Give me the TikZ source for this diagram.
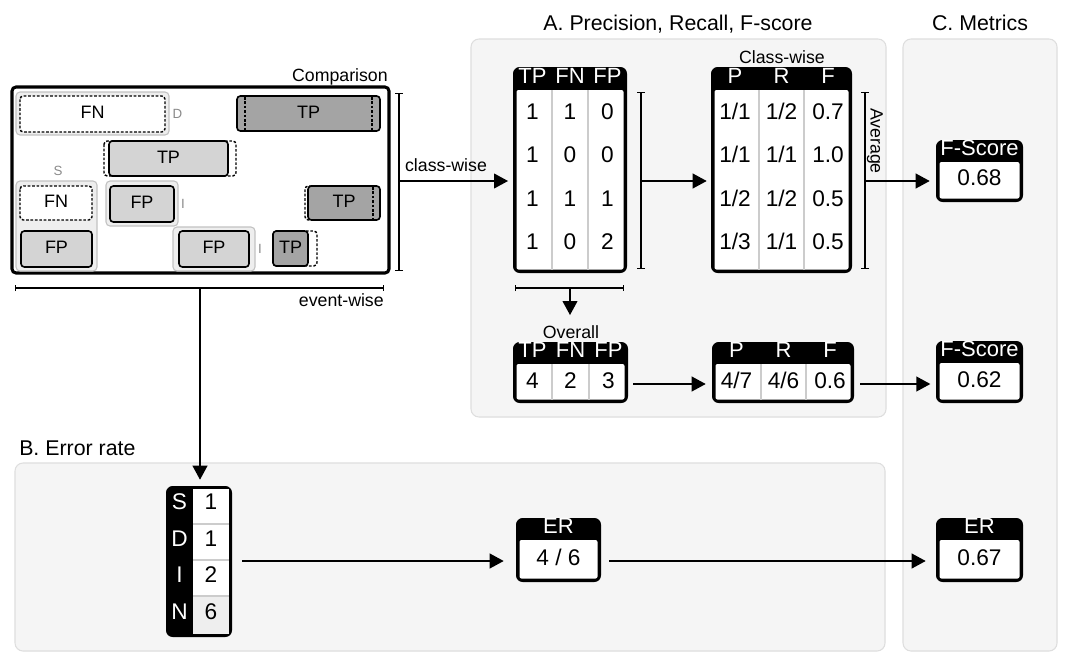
\documentclass[tikz,border=0pt]{standalone}
\usepackage{fontspec}
\setmainfont{Liberation Sans}
\usetikzlibrary{arrows.meta,fit}
\definecolor{panelbg}{HTML}{F5F5F5}
\definecolor{panelln}{HTML}{DEDEDE}
\definecolor{grpbg}{HTML}{EEEEEE}
\definecolor{grpln}{HTML}{C2C2C2}
\definecolor{lightbox}{HTML}{D4D4D4}
\definecolor{darkbox}{HTML}{A4A4A4}
\definecolor{sepln}{HTML}{CCCCCC}
\definecolor{lblgray}{HTML}{8A8A8A}
\newcommand{\fsz}[1]{\fontsize{#1}{#1}\selectfont}
\newcommand{\tblbox}[5]{%
  \fill[black, rounded corners=5pt] (#1,#2) rectangle (#3,#4);
  \fill[white, rounded corners=1.5pt] ({#1+3.5},#5) rectangle ({#3-3.5},{#4-3.5});
}
\begin{document}
\begin{tikzpicture}[x=0.75pt,y=-0.75pt,
  panel/.style={fill=panelbg, draw=panelln, line width=0.8pt, rounded corners=6pt},
  grp/.style={fill=grpbg, draw=grpln, line width=0.8pt, rounded corners=3pt},
  solidbox/.style={draw=black, line width=1.2pt, rounded corners=2.5pt},
  dashbox/.style={draw=black, line width=1.1pt, dash pattern=on 2pt off 1.3pt, rounded corners=2.5pt},
  dashln/.style={draw=black, line width=1pt, dash pattern=on 2pt off 1.3pt},
  lbl/.style={inner sep=0pt, text height=0.716em, text depth=0pt, font=\fsz{13.5}},
  glbl/.style={inner sep=0pt, text height=0.716em, text depth=0pt, font=\fsz{10}, text=lblgray},
  ttl/.style={inner sep=0pt, anchor=base, font=\fsz{16}},
  note/.style={inner sep=0pt, anchor=base, font=\fsz{13.3}},
  num/.style={inner sep=0pt, text height=0.716em, text depth=0pt, font=\fsz{17}},
  hd/.style={inner sep=0pt, text height=0.716em, text depth=0pt, font=\fsz{16.5}, text=white},
  val/.style={inner sep=0pt, text height=0.716em, text depth=0pt, font=\fsz{17}},
  hdv/.style={inner sep=0pt, text height=0.716em, text depth=0pt, font=\fsz{16.5}, text=white},
  arr/.style={-{Triangle[length=10.5pt,width=11pt]}, line width=1.4pt},
  brk/.style={{Bar[width=6pt]}-{Bar[width=6pt]}, line width=1.1pt},
  sbrk/.style={{Bar[width=4.5pt]}-{Bar[width=4.5pt]}, line width=1pt},
  sep/.style={draw=sepln, line width=1pt},
]
\useasboundingbox (0,0) rectangle (1071,664);
\fill[white] (0,0) rectangle (1071,664);

% panels
\draw[panel] (471,39) rectangle (886,417);
\draw[panel] (15,463) rectangle (885,651);
\draw[panel] (903,39) rectangle (1057,651);
\node[ttl] (ttlA) at (678,30) {A. Precision, Recall, F-score};
\node[ttl] (ttlC) at (980,30) {C. Metrics};
\node[ttl, anchor=base west] (ttlB) at (19,455) {B. Error rate};

% comparison
\draw[line width=2.3pt, rounded corners=3pt] (12,87) rectangle (389,273);
\node[fit={(12,87)(389,273)}, inner sep=0pt] (cmp) {};
\node[note, anchor=base east] (cmpt) at (388,81) {Comparison};

\draw[grp] (16,92) rectangle (169,135);
\draw[grp] (16,181) rectangle (97,271);
\draw[grp] (106,181) rectangle (178,226);
\draw[grp] (173,227) rectangle (255,271);

\draw[dashbox, fill=white] (20,96) rectangle (165,132);
\node[lbl] (fn1) at (92.5,114) {FN};
\node[glbl] (dl) at (177.5,114) {D};

\draw[solidbox, fill=darkbox] (237,96) rectangle (380,131);
\draw[dashln] (245,97) -- (245,130);
\draw[dashln] (372,97) -- (372,130);
\node[lbl] (tp1) at (308.5,113.5) {TP};

\draw[dashbox] (104,141) rectangle (236,176);
\draw[solidbox, fill=lightbox] (109,141) rectangle (228,176);
\node[lbl] (tp2) at (168.5,158.5) {TP};

\node[glbl] (sl) at (58,171) {S};
\draw[dashbox, fill=white] (20,186) rectangle (92,220);
\node[lbl] (fn2) at (56,203) {FN};
\draw[solidbox, fill=lightbox] (21,231) rectangle (92,267);
\node[lbl] (fp1) at (56.5,249) {FP};

\draw[solidbox, fill=lightbox] (110,186) rectangle (174,222);
\node[lbl] (fp2) at (142,204) {FP};
\node[glbl] (il1) at (183,204) {I};

\draw[dashbox] (305,186) rectangle (373,220);
\draw[solidbox, fill=darkbox] (308,186) rectangle (380,220);
\draw[dashln] (373,187) -- (373,219);
\node[lbl] (tp3) at (344,203) {TP};

\draw[solidbox, fill=lightbox] (179,231) rectangle (249,267);
\node[lbl] (fp3) at (214,249) {FP};
\node[glbl] (il2) at (260,249) {I};

\draw[dashbox] (273,231) rectangle (317,266);
\draw[solidbox, fill=darkbox] (273,231) rectangle (308,266);
\node[lbl] (tp4) at (290.5,248.5) {TP};

% class-wise TP FN FP table
\tblbox{513}{67}{627}{273}{90}
\node[fit={(513,67)(627,273)}, inner sep=0pt] (tpc) {};
\draw[sep] (552,90) -- (552,269.5);
\draw[sep] (588,90) -- (588,269.5);
\node[hd] at (532.5,78.5) {TP};
\node[hd] at (570,78.5) {FN};
\node[hd] at (607.5,78.5) {FP};
\node[num] at (532.5,115) {1}; \node[num] at (570,115) {1}; \node[num] at (607.5,115) {0};
\node[num] at (532.5,158) {1}; \node[num] at (570,158) {0}; \node[num] at (607.5,158) {0};
\node[num] at (532.5,202) {1}; \node[num] at (570,202) {1}; \node[num] at (607.5,202) {1};
\node[num] at (532.5,245) {1}; \node[num] at (570,245) {0}; \node[num] at (607.5,245) {2};

% class-wise bracket + arrow
\coordinate (cwt) at (399,93); \coordinate (cwb) at (399,271); \coordinate (cwm) at (399,181);
\draw[brk] (cwt) -- (cwb);
\draw[arr, shorten >=3.5pt] (cwm) -- (cwm -| tpc.west);
\node[note] (cwl) at (446,171) {class-wise};

% class-wise PRF
\tblbox{711}{67}{852}{273}{90}
\node[fit={(711,67)(852,273)}, inner sep=0pt] (prf) {};
\draw[sep] (759,90) -- (759,269.5);
\draw[sep] (804,90) -- (804,269.5);
\node[hd] at (735,78.5) {P};
\node[hd] at (781.5,78.5) {R};
\node[hd] at (828,78.5) {F};
\node[num] at (735,115) {1/1}; \node[num] at (781.5,115) {1/2}; \node[num] at (828,115) {0.7};
\node[num] at (735,158) {1/1}; \node[num] at (781.5,158) {1/1}; \node[num] at (828,158) {1.0};
\node[num] at (735,202) {1/2}; \node[num] at (781.5,202) {1/2}; \node[num] at (828,202) {0.5};
\node[num] at (735,245) {1/3}; \node[num] at (781.5,245) {1/1}; \node[num] at (828,245) {0.5};
\node[note] (cwt2) at (782,63) {Class-wise};

\coordinate (tbt) at (641,92); \coordinate (tbb) at (641,269); \coordinate (tbm) at (641,181);
\draw[brk] (tbt) -- (tbb);
\draw[arr, shorten >=3pt] (tbm) -- (tbm -| prf.west);

% average bracket
\coordinate (avt) at (865,92); \coordinate (avb) at (865,269); \coordinate (avm) at (865,181);
\draw[brk] (avt) -- (avb);
\node[inner sep=0pt, font=\fsz{13.3}, rotate=-90] (avg) at (875,141) {Average};

% F-score 1
\tblbox{936}{140}{1023}{202}{162}
\node[fit={(936,140)(1023,202)}, inner sep=0pt] (fs1) {};
\node[hdv] at (979.5,151) {F-Score};
\node[val] at (979.5,181) {0.68};
\draw[arr, shorten >=4.5pt] (avm) -- (avm -| fs1.west);

% overall
\coordinate (ovl) at (515,288); \coordinate (ovr) at (624,288); \coordinate (ovm) at (570,288);
\draw[sbrk] (ovl) -- (ovr);
\node[note] (ovtx) at (571,338) {Overall};
\tblbox{513}{342}{628}{403}{364}
\node[fit={(513,342)(628,403)}, inner sep=0pt] (ovt) {};
\draw[arr, shorten >=20pt] (ovm) -- (ovm |- ovt.north);
\draw[sep] (552,364) -- (552,399.5);
\draw[sep] (589,364) -- (589,399.5);
\node[hd] at (532.5,353) {TP};
\node[hd] at (570.5,353) {FN};
\node[hd] at (608.5,353) {FP};
\node[num] at (532.5,384) {4}; \node[num] at (570.5,384) {2}; \node[num] at (608.5,384) {3};

\tblbox{712}{342}{854}{403}{364}
\node[fit={(712,342)(854,403)}, inner sep=0pt] (ovp) {};
\draw[sep] (761,364) -- (761,399.5);
\draw[sep] (806,364) -- (806,399.5);
\node[hd] at (736.5,353) {P};
\node[hd] at (783.5,353) {R};
\node[hd] at (830,353) {F};
\node[num] at (736.5,384) {4/7}; \node[num] at (783.5,384) {4/6}; \node[num] at (830,384) {0.6};

\tblbox{936}{341}{1023}{403}{363}
\node[fit={(936,341)(1023,403)}, inner sep=0pt] (fs2) {};
\node[hdv] at (979.5,352) {F-Score};
\node[val] at (979.5,383) {0.62};

\coordinate (ovy) at (0,384);
\draw[arr, shorten <=3.75pt, shorten >=4.5pt] (ovt.east |- ovy) -- (ovp.west |- ovy);
\draw[arr, shorten <=4.5pt, shorten >=4pt] (ovp.east |- ovy) -- (fs2.west |- ovy);

% event-wise
\coordinate (ewl) at (15,288); \coordinate (ewr) at (384,288); \coordinate (ewm) at (200,288);
\draw[sbrk] (ewl) -- (ewr);
\node[note, anchor=base east] (ewt) at (384,306) {event-wise};

% SDIN
\fill[black, rounded corners=5pt] (166,486) rectangle (232,637);
\fill[white] (193,489) rectangle (229,634);
\fill[grpbg] (193,596) rectangle (229,634);
\draw[sep] (193,524) -- (229,524);
\draw[sep] (193,560) -- (229,560);
\draw[sep] (193,596) -- (229,596);
\node[fit={(166,486)(232,637)}, inner sep=0pt] (sdin) {};
\node[hd, font=\fsz{17}] at (179.5,505) {S}; \node[num] at (211,505) {1};
\node[hd, font=\fsz{17}] at (179.5,542) {D}; \node[num] at (211,542) {1};
\node[hd, font=\fsz{17}] at (179.5,578) {I}; \node[num] at (211,578) {2};
\node[hd, font=\fsz{17}] at (179.5,615) {N}; \node[num] at (211,615) {6};
\draw[arr, shorten >=4.5pt] (ewm) -- (ewm |- sdin.north);

% ER
\tblbox{516}{518}{601}{582}{540}
\node[fit={(516,518)(601,582)}, inner sep=0pt] (er) {};
\node[hdv] at (558.5,529) {ER};
\node[val] at (558.5,561) {4 / 6};

\tblbox{936}{518}{1023}{582}{540}
\node[fit={(936,518)(1023,582)}, inner sep=0pt] (erf) {};
\node[hdv] at (979.5,529) {ER};
\node[val] at (979.5,561) {0.67};

\coordinate (erv) at (0,561);
\draw[arr, shorten <=7.5pt, shorten >=9pt] (sdin.east |- erv) -- (er.west |- erv);
\draw[arr, shorten <=6pt, shorten >=7.5pt] (er.east |- erv) -- (erf.west |- erv);
\end{tikzpicture}
\end{document}
